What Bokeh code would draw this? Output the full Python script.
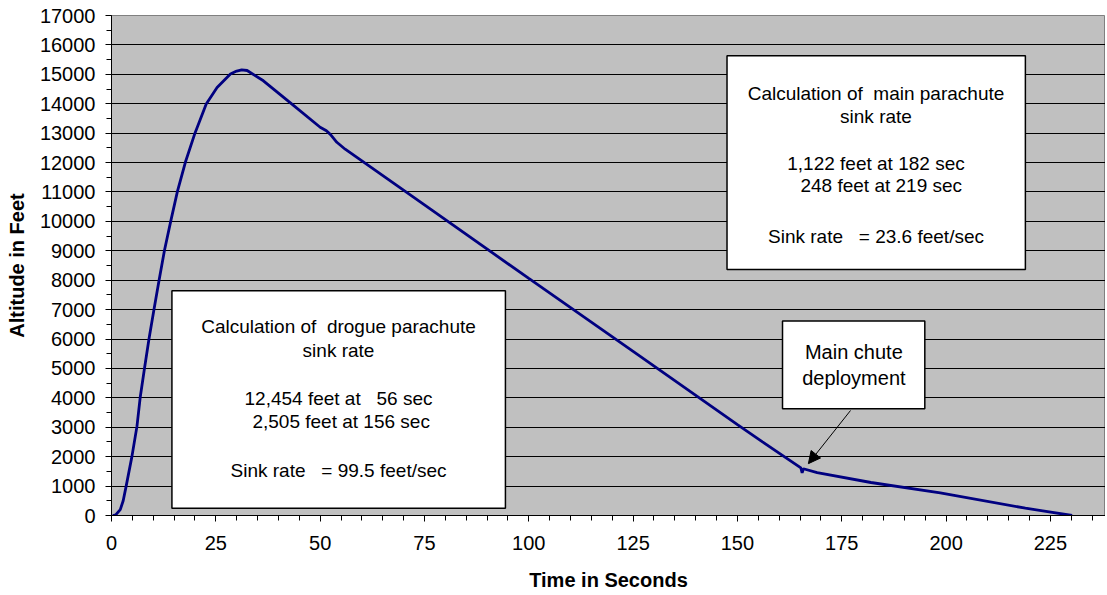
from bokeh.plotting import figure
from bokeh.models import (SingleIntervalTicker, BoxAnnotation, Label, Arrow, NormalHead,
                          Range1d)
from bokeh.embed import file_html
from bokeh.resources import INLINE

# ---- data ----
time_s = [0.3, 1.0, 2.1, 2.8, 3.5, 4.9, 6.1, 6.9, 7.9, 9.0, 10.2, 11.4, 12.7, 14.2,
          15.8, 17.7, 20.0, 22.7, 25.3, 28.5, 30.0, 31.2, 32.5, 36.4, 42.8, 50.0,
          51.5, 52.5, 54.0, 56.0, 75.0, 100.0, 125.0, 150.0, 156.0, 165.2, 165.5,
          165.8, 169.1, 182.0, 198.6, 219.0, 230.2]
altitude_ft = [0, 20, 200, 500, 990, 2010, 3030, 4040, 5000, 6020, 7020, 8000, 9020,
               10010, 11020, 12010, 13000, 13990, 14550, 15010, 15110, 15150, 15130,
               14780, 14040, 13200, 13080, 12950, 12690, 12454, 10560, 8060, 5580,
               3090, 2505, 1620, 1450, 1590, 1460, 1122, 770, 248, 0]

NB = "\u00a0"
drogue_lines = ["Calculation of " + NB + "drogue parachute", "sink rate",
                "12,454 feet at " + NB + NB + "56 sec", NB + "2,505 feet at 156 sec",
                "Sink rate " + NB + NB + "= 99.5 feet/sec"]
main_lines = ["Calculation of " + NB + "main parachute", "sink rate",
              "1,122 feet at 182 sec", NB + NB + "248 feet at 219 sec",
              "Sink rate " + NB + NB + "= 23.6 feet/sec"]
chute_lines = ["Main chute", "deployment"]

FONT = "Liberation Sans"

p = figure(width=1105, height=593, output_backend="svg", toolbar_location=None,
           x_range=Range1d(0, 238.2), y_range=Range1d(0, 17000),
           min_border_left=111, min_border_right=0, min_border_top=15,
           min_border_bottom=77)
p.background_fill_color = "#C0C0C0"
p.border_fill_color = "white"
p.outline_line_color = "#808080"

p.line(time_s, altitude_ft, line_color="#000080", line_width=2.8)

# axes
p.xaxis.ticker = SingleIntervalTicker(interval=25, num_minor_ticks=5)
p.yaxis.ticker = SingleIntervalTicker(interval=1000, num_minor_ticks=2)
for ax in (p.xaxis[0], p.yaxis[0]):
    ax.axis_line_color = "black"
    ax.axis_line_width = 1
    ax.major_tick_in = 0
    ax.major_tick_out = 6
    ax.minor_tick_in = 0
    ax.minor_tick_out = 5
    ax.major_tick_line_color = "black"
    ax.minor_tick_line_color = "black"
    ax.major_label_text_font = FONT
    ax.major_label_text_font_size = "20px"
    ax.major_label_text_color = "black"
    ax.axis_label_text_font = FONT
    ax.axis_label_text_font_size = "20px"
    ax.axis_label_text_font_style = "bold"
    ax.axis_label_text_color = "black"
p.xaxis.axis_label = "Time in Seconds"
p.yaxis.axis_label = "Altitude in Feet"
p.xaxis.major_label_standoff = 14
p.xaxis.axis_label_standoff = 16
p.yaxis.major_label_standoff = 10
p.yaxis.axis_label_standoff = 9

p.xgrid.grid_line_color = None
p.ygrid.grid_line_color = "black"
p.ygrid.grid_line_width = 1

# annotation boxes
box_style = dict(fill_color="white", fill_alpha=1.0, line_color="black",
                 line_width=1.5, line_alpha=1.0)
p.add_layout(BoxAnnotation(left=14.48, right=94.4, bottom=248, top=7640, **box_style))
p.add_layout(BoxAnnotation(left=147.5, right=219.0, bottom=8366, top=15632, **box_style))
p.add_layout(BoxAnnotation(left=160.8, right=194.9, bottom=3628, top=6612, **box_style))

def add_lines(lines, xc, ys, size):
    for txt, yy in zip(lines, ys):
        p.add_layout(Label(x=xc, y=yy, text=txt, text_align="center",
                           text_baseline="middle", text_font=FONT,
                           text_font_size=size, text_color="black"))

add_lines(drogue_lines, 54.4, [6420, 5605, 3991, 3198, 1536], "19px")
add_lines(main_lines, 183.2, [14354, 13564, 11980, 11224, 9495], "19px")
add_lines(chute_lines, 177.9, [5571, 4669], "20px")

p.add_layout(Arrow(x_start=177.1, y_start=3571, x_end=167.0, y_end=1763,
                   line_color="black", line_width=1,
                   end=NormalHead(size=12, fill_color="black", line_color="black")))

open("out.html", "w").write(file_html(p, INLINE))
